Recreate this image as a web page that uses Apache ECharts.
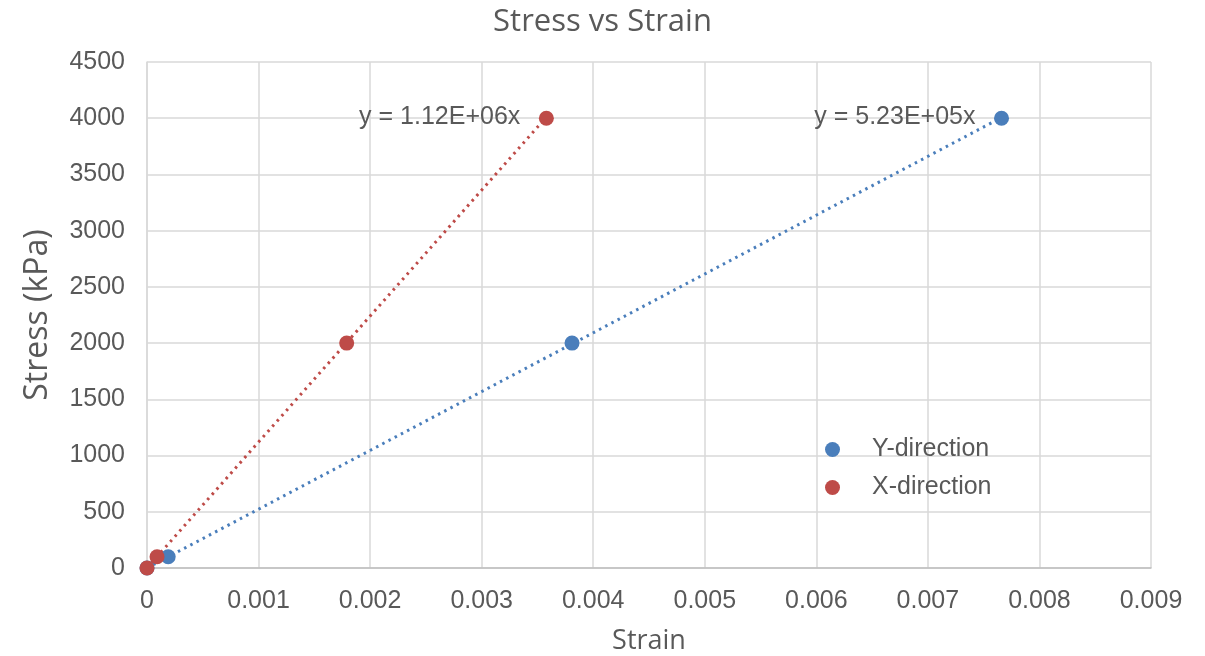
<!DOCTYPE html>
<html><head><meta charset="utf-8">
<script src="https://cdn.jsdelivr.net/npm/echarts@6/dist/echarts.min.js"></script>
<style>html,body{margin:0;padding:0;background:#fff}#c{width:1205px;height:656px}</style>
</head><body><div id="c"></div>
<script>
var yDirStrain = [0, 0.00019, 0.00381, 0.00766];
var yDirStress = [0, 100, 2000, 4000];
var xDirStrain = [0, 0.00009, 0.00179, 0.00358];
var xDirStress = [0, 100, 2000, 4000];
var yTrendX = [0, 0.00766];
var yTrendY = [0, 4006];
var xTrendX = [0, 0.00358];
var xTrendY = [0, 4010];
var yTrendLabel = 'y = 5.23E+05x';
var xTrendLabel = 'y = 1.12E+06x';

function pairs(a, b) { return a.map(function (v, i) { return [v, b[i]]; }); }
var BLUE = '#4a7ebb', RED = '#be4b48';
var txt = '#595959';
var chart = echarts.init(document.getElementById('c'), null, {renderer: 'canvas'});
function trendData(xs, ys, label) {
  return xs.map(function (v, i) {
    var d = {value: [v, ys[i]]};
    if (i === xs.length - 1) d.label = {show: true, formatter: label, position: 'left', distance: 26,
      color: txt, fontSize: 25, fontFamily: 'Liberation Sans'};
    return d;
  });
}
chart.setOption({
  animation: false,
  title: {text: 'Stress vs Strain', left: 'center', top: 2,
    textStyle: {color: txt, fontSize: 31, fontWeight: 'normal', fontFamily: 'Open Sans'}},
  grid: {left: 147, right: 54, top: 62, bottom: 88, containLabel: false, outerBoundsMode: 'none'},
  legend: {orient: 'vertical', left: 820, top: 432, itemGap: 13, itemWidth: 15, itemHeight: 15,
    icon: 'circle', textStyle: {color: txt, fontSize: 25, fontFamily: 'Liberation Sans', padding: [0, 0, 0, 27]},
    data: ['Y-direction', 'X-direction']},
  xAxis: {type: 'value', min: 0, max: 0.009, interval: 0.001,
    name: 'Strain', nameLocation: 'middle', nameGap: 60,
    nameTextStyle: {color: txt, fontSize: 27, fontFamily: 'Open Sans'},
    axisLine: {lineStyle: {color: '#bfbfbf', width: 1.5}}, axisTick: {show: false},
    axisLabel: {color: txt, fontSize: 25, fontFamily: 'Liberation Sans', margin: 21,
      formatter: function (v) { return v === 0 ? '0' : v.toFixed(3); }},
    splitLine: {lineStyle: {color: '#d9d9d9', width: 1.5}}},
  yAxis: {type: 'value', min: 0, max: 4500, interval: 500,
    name: 'Stress (kPa)', nameLocation: 'middle', nameGap: 93, nameRotate: 90,
    nameTextStyle: {color: txt, fontSize: 32, fontFamily: 'Open Sans'},
    axisLine: {show: true, lineStyle: {color: '#d9d9d9', width: 1.5}}, axisTick: {show: false},
    axisLabel: {color: txt, fontSize: 25, fontFamily: 'Liberation Sans', margin: 22,
      formatter: function (v) { return String(v); }},
    splitLine: {lineStyle: {color: '#d9d9d9', width: 1.5}}},
  series: [
    {name: 'Y-trend', type: 'line', data: trendData(yTrendX, yTrendY, yTrendLabel),
      symbol: 'circle', symbolSize: 0.1, showSymbol: true, itemStyle: {color: BLUE},
      lineStyle: {color: BLUE, width: 3, type: [2.5, 4.5]}, z: 2, silent: true},
    {name: 'X-trend', type: 'line', data: trendData(xTrendX, xTrendY, xTrendLabel),
      symbol: 'circle', symbolSize: 0.1, showSymbol: true, itemStyle: {color: RED},
      lineStyle: {color: RED, width: 3, type: [2.5, 4.5]}, z: 2, silent: true},
    {name: 'Y-direction', type: 'scatter', data: pairs(yDirStrain, yDirStress), symbolSize: 15,
      itemStyle: {color: BLUE, opacity: 1}, z: 3},
    {name: 'X-direction', type: 'scatter', data: pairs(xDirStrain, xDirStress), symbolSize: 15,
      itemStyle: {color: RED, opacity: 1}, z: 4}
  ]
});
</script></body></html>
